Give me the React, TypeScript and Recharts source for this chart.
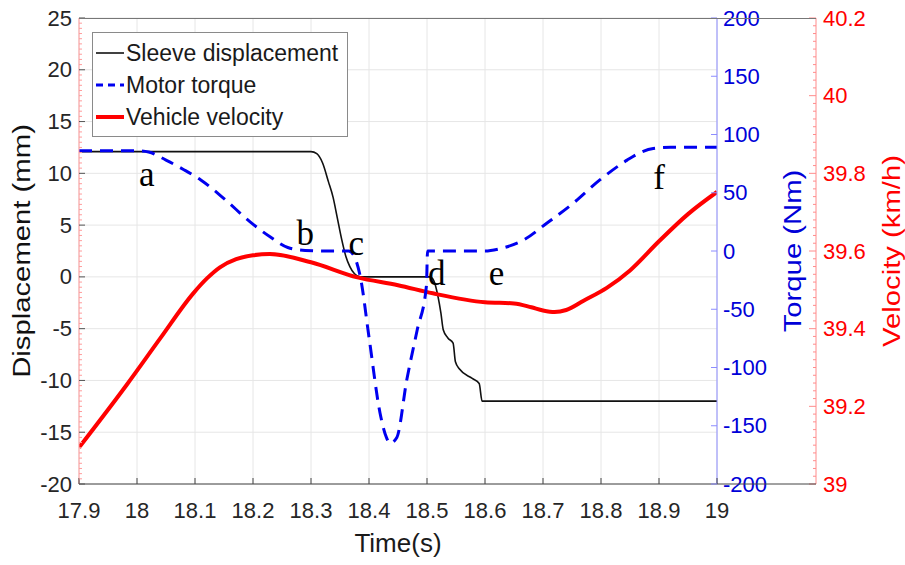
import React from 'react';
import {
  ComposedChart,
  Line,
  XAxis,
  YAxis,
  CartesianGrid,
  Legend,
  ReferenceDot,
  Label,
} from 'recharts';

const FONT = 'Arial, "Liberation Sans", sans-serif';
const SERIF = '"Liberation Serif", "Times New Roman", serif';

// labelled ticks
const timeTicks = [17.9, 18, 18.1, 18.2, 18.3, 18.4, 18.5, 18.6, 18.7, 18.8, 18.9, 19];
const displacementTicks = [-20, -15, -10, -5, 0, 5, 10, 15, 20, 25];
const torqueTicks = [-200, -150, -100, -50, 0, 50, 100, 150, 200];
const velocityTicks = [39, 39.2, 39.4, 39.6, 39.8, 40, 40.2];
// unlabelled minor ticks on the two red scales
const displacementMinor = Array.from({ length: 91 }, (_, i) => -20 + i * 0.5);
const velocityMinor = Array.from({ length: 61 }, (_, i) => +(39 + i * 0.02).toFixed(2));

// sleeve displacement (mm)
const sleeveTime = [
  17.9, 18.3, 18.31, 18.32, 18.33, 18.338, 18.345, 18.353, 18.36, 18.367, 18.375, 18.385,
  18.505, 18.512, 18.519, 18.524, 18.528, 18.536, 18.545, 18.549, 18.556, 18.578, 18.59,
  18.595, 19,
];
const sleeveMm = [
  12.1, 12.1, 11.9, 11, 9.2, 7.7, 5.8, 3.6, 2.0, 1.0, 0.3, 0,
  0, -0.4, -1.9, -3.5, -5.1, -5.9, -6.4, -8.2, -8.9, -9.8, -10.3,
  -12.0, -12.0,
];

// motor torque (Nm)
const torqueTime = [
  17.9, 18.0, 18.02, 18.05, 18.08, 18.11, 18.15, 18.195, 18.23, 18.26, 18.29, 18.33, 18.365,
  18.375, 18.385, 18.4, 18.419, 18.43, 18.436, 18.448, 18.465, 18.483, 18.499, 18.501, 18.55,
  18.6, 18.626, 18.665, 18.707, 18.752, 18.798, 18.845, 18.87, 18.89, 18.92, 19,
];
const torqueNm = [
  86, 86, 85, 78, 70, 61, 45, 25, 12, 3, 0.5, 0, 0,
  -5, -22, -74, -139, -160, -165, -160, -111, -68, -30, 0, 0,
  0, 2, 9, 24, 41, 61, 78, 85, 88, 89, 89,
];

// vehicle velocity (km/h)
const velocityTime = [
  17.9, 17.983, 18.04, 18.097, 18.121, 18.143, 18.171, 18.2, 18.229, 18.3, 18.38, 18.45, 18.51,
  18.6, 18.65, 18.68, 18.7, 18.72, 18.74, 18.77, 18.81, 18.85, 18.9, 18.95, 19,
];
const velocityKmh = [
  39.094, 39.257, 39.375, 39.491, 39.53, 39.558, 39.579, 39.589, 39.592, 39.571, 39.532, 39.512, 39.491,
  39.468, 39.465, 39.455, 39.447, 39.443, 39.448, 39.472, 39.505, 39.55, 39.625, 39.695, 39.752,
];

// phase markers, placed on the displacement axis
const markerNames = ['a', 'b', 'c', 'd', 'e', 'f'];
const markerTime = [18.017, 18.29, 18.378, 18.517, 18.62, 18.9];
const markerMm = [10.0, 4.25, 3.3, 0.4, 0.4, 9.7];

const toPoints = (ts: number[], vs: number[]) => ts.map((t, i) => ({ t, v: vs[i] }));
const sleeveData = toPoints(sleeveTime, sleeveMm);
const torqueData = toPoints(torqueTime, torqueNm);
const velocityData = toPoints(velocityTime, velocityKmh);

const SLEEVE = { name: 'Sleeve displacement', color: '#111111', width: 1.6, dash: '' };
const TORQUE = { name: 'Motor torque', color: '#0000f0', width: 3, dash: '13 8' };
const VELOCITY = { name: 'Vehicle velocity', color: '#ff0000', width: 4, dash: '' };
const legendRows = [SLEEVE, TORQUE, VELOCITY];

const isMajor = (v: number, majors: number[]) => majors.some((m) => Math.abs(m - v) < 1e-6);

// Ticks are drawn by hand so that they point into the plot and so that
// minor marks can share the axis with the labelled ones.
type TickOpts = {
  side: 'left' | 'right';
  majors: number[];
  majorStroke: string;
  minorStroke: string;
  labelFill: string;
  majorLen: number;
  minorLen: number;
  gap: number;
};
const makeTick = (o: TickOpts) => (props: any) => {
  const { x, y, payload } = props;
  const value = payload.value as number;
  const major = isMajor(value, o.majors);
  const dir = o.side === 'left' ? 1 : -1;
  const len = major ? o.majorLen : o.minorLen;
  return (
    <g>
      <line x1={x} y1={y} x2={x + dir * len} y2={y} stroke={major ? o.majorStroke : o.minorStroke} strokeWidth={1} />
      {major && (
        <text
          x={x - dir * o.gap}
          y={y}
          textAnchor={o.side === 'left' ? 'end' : 'start'}
          dominantBaseline="central"
          fontSize={22}
          fontFamily={FONT}
          fill={o.labelFill}
        >
          {String(value)}
        </text>
      )}
    </g>
  );
};

const TimeTick = (props: any) => {
  const { x, y, payload } = props;
  return (
    <g>
      <line x1={x} y1={y} x2={x} y2={y - 6} stroke="#444" strokeWidth={1} />
      <text x={x} y={y + 26} textAnchor="middle" dominantBaseline="central" fontSize={22} fontFamily={FONT} fill="#262626">
        {String(payload.value)}
      </text>
    </g>
  );
};

const rotatedTitle = (text: string, color: string, dx: number) => (props: any) => {
  const vb = props.viewBox || { x: 0, y: 0, width: 0, height: 0 };
  const cx = vb.x + dx;
  const cy = vb.y + vb.height / 2;
  return (
    <text
      transform={`translate(${cx},${cy}) rotate(-90) scale(1.22,1)`}
      textAnchor="middle"
      dominantBaseline="central"
      fontSize={24}
      fontFamily={FONT}
      fill={color}
    >
      {text}
    </text>
  );
};

const timeTitle = (props: any) => {
  const vb = props.viewBox || { x: 0, y: 0, width: 0, height: 0 };
  return (
    <text
      x={vb.x + vb.width / 2}
      y={vb.y + 59}
      textAnchor="middle"
      dominantBaseline="central"
      fontSize={26}
      fontFamily={FONT}
      fill="#1a1a1a"
    >
      Time(s)
    </text>
  );
};

const LegendBox = () => (
  <div
    style={{
      width: 254,
      height: 99,
      border: '1px solid #8a8a8a',
      background: '#fff',
      paddingTop: 4,
      boxSizing: 'content-box',
      fontFamily: FONT,
      fontSize: 23,
      color: '#1a1a1a',
    }}
  >
    {legendRows.map((row) => (
      <div key={row.name} style={{ display: 'flex', alignItems: 'center', height: 32, paddingLeft: 3 }}>
        <svg width={30} height={10} style={{ flex: 'none' }}>
          <line
            x1={0}
            y1={5}
            x2={28}
            y2={5}
            stroke={row.color}
            strokeWidth={row.width}
            strokeDasharray={row.dash ? '7 5' : undefined}
          />
        </svg>
        <span style={{ lineHeight: '32px', whiteSpace: 'nowrap' }}>{row.name}</span>
      </div>
    ))}
  </div>
);

export default function App() {
  return (
    <div style={{ position: 'absolute', left: 0, top: 0, width: 905, height: 565, background: '#fff' }}>
      <ComposedChart width={905} height={565} margin={{ top: 18, right: 0, bottom: 0, left: 8 }}>
        <CartesianGrid
          yAxisId="disp"
          stroke="#e6e6e6"
          horizontalValues={displacementTicks}
          verticalValues={timeTicks}
        />

        <XAxis
          dataKey="t"
          type="number"
          domain={[17.9, 19]}
          allowDataOverflow
          ticks={timeTicks}
          interval={0}
          height={81}
          stroke="#444"
          tickLine={false}
          tickSize={0}
          tickMargin={0}
          tick={<TimeTick />}
        >
          <Label content={timeTitle} />
        </XAxis>

        <YAxis
          yAxisId="disp"
          orientation="left"
          width={71}
          type="number"
          domain={[-20, 25]}
          allowDataOverflow
          ticks={displacementMinor}
          interval={0}
          stroke="#ff9c9c"
          tickLine={false}
          tickSize={0}
          tickMargin={0}
          tick={makeTick({
            side: 'left',
            majors: displacementTicks,
            majorStroke: '#555',
            minorStroke: '#ff9c9c',
            labelFill: '#262626',
            majorLen: 6,
            minorLen: 3,
            gap: 7,
          })}
        >
          <Label content={rotatedTitle('Displacement (mm)', '#111', 14)} />
        </YAxis>

        <YAxis
          yAxisId="torque"
          orientation="right"
          width={99}
          type="number"
          domain={[-200, 200]}
          allowDataOverflow
          ticks={torqueTicks}
          interval={0}
          stroke="#8c8cff"
          tickLine={false}
          tickSize={0}
          tickMargin={0}
          tick={makeTick({
            side: 'right',
            majors: torqueTicks,
            majorStroke: '#8c8cff',
            minorStroke: '#8c8cff',
            labelFill: '#0000d8',
            majorLen: 6,
            minorLen: 3,
            gap: 6,
          })}
        >
          <Label content={rotatedTitle('Torque (Nm)', '#0000d8', 76)} />
        </YAxis>

        <YAxis
          yAxisId="velocity"
          orientation="right"
          width={89}
          type="number"
          domain={[39, 40.2]}
          allowDataOverflow
          ticks={velocityMinor}
          interval={0}
          stroke="#ff8c8c"
          tickLine={false}
          tickSize={0}
          tickMargin={0}
          tick={makeTick({
            side: 'right',
            majors: velocityTicks,
            majorStroke: '#ff8c8c',
            minorStroke: '#ff8c8c',
            labelFill: '#ff0000',
            majorLen: 7,
            minorLen: 3,
            gap: 7,
          })}
        >
          <Label content={rotatedTitle('Velocity (km/h)', '#ff0000', 76)} />
        </YAxis>

        <Line
          yAxisId="disp"
          data={sleeveData}
          dataKey="v"
          name={SLEEVE.name}
          type="monotone"
          stroke={SLEEVE.color}
          strokeWidth={SLEEVE.width}
          dot={false}
          activeDot={false}
          isAnimationActive={false}
        />
        <Line
          yAxisId="velocity"
          data={velocityData}
          dataKey="v"
          name={VELOCITY.name}
          type="monotone"
          stroke={VELOCITY.color}
          strokeWidth={VELOCITY.width}
          dot={false}
          activeDot={false}
          isAnimationActive={false}
        />
        <Line
          yAxisId="torque"
          data={torqueData}
          dataKey="v"
          name={TORQUE.name}
          type="monotone"
          stroke={TORQUE.color}
          strokeWidth={TORQUE.width}
          strokeDasharray={TORQUE.dash}
          dot={false}
          activeDot={false}
          isAnimationActive={false}
        />

        {markerNames.map((name, i) => (
          <ReferenceDot
            key={name}
            yAxisId="disp"
            x={markerTime[i]}
            y={markerMm[i]}
            r={0}
            fill="none"
            stroke="none"
            label={{ value: name, position: 'center', fill: '#000', fontSize: 35, fontFamily: SERIF }}
          />
        ))}

        <Legend
          layout="vertical"
          align="center"
          verticalAlign="middle"
          content={() => <LegendBox />}
          wrapperStyle={{ position: 'absolute', left: 92, top: 32, width: 'auto', height: 'auto' }}
        />
      </ComposedChart>

      {/* frame lines running past the torque axis out to the velocity axis */}
      <svg width={905} height={565} style={{ position: 'absolute', left: 0, top: 0, pointerEvents: 'none' }}>
        <line x1={79} y1={18.5} x2={816} y2={18.5} stroke="#777" strokeWidth={1} />
        <line x1={717} y1={484} x2={816} y2={484} stroke="#444" strokeWidth={1} />
      </svg>
    </div>
  );
}
